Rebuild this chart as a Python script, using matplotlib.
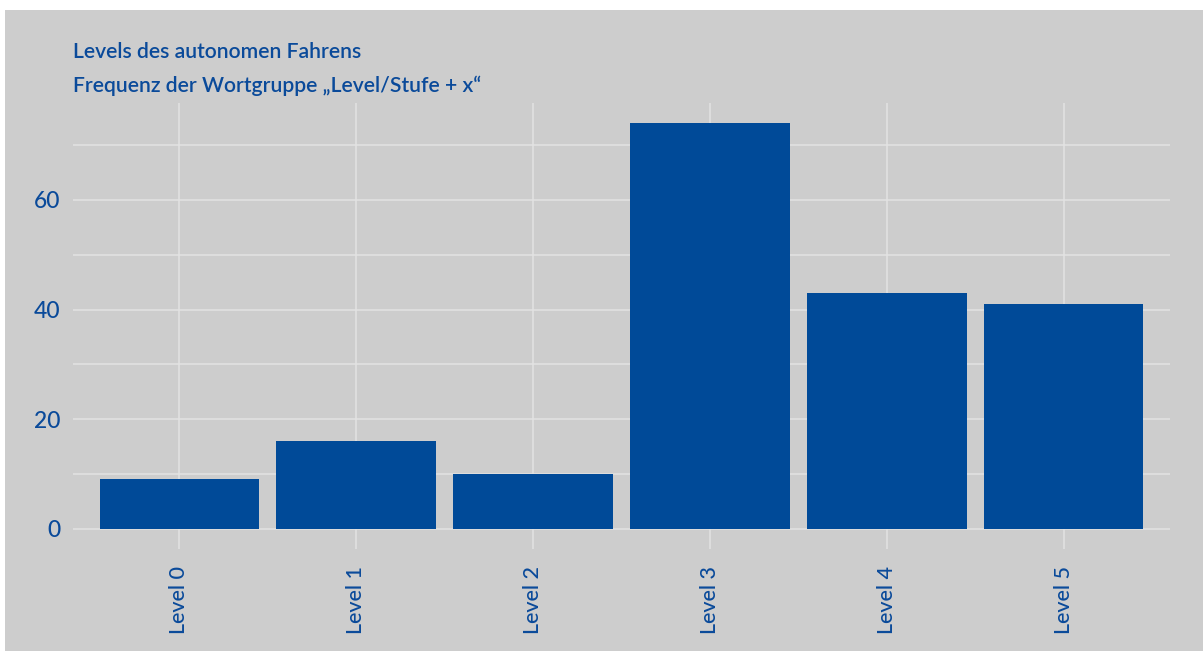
import matplotlib
matplotlib.use("Agg")
import matplotlib.pyplot as plt
from matplotlib.patches import Rectangle

categories = ["Level 0", "Level 1", "Level 2", "Level 3", "Level 4", "Level 5"]
counts = [9, 16, 10, 74, 43, 41]
y_major = [0, 20, 40, 60]
y_minor = [10, 30, 50, 70]
title_lines = ["Levels des autonomen Fahrens",
               "Frequenz der Wortgruppe \u201eLevel/Stufe + x\u201c"]

BLUE = "#004a98"
TEXT = "#0a4a9a"
PANEL = "#cdcdcd"
GRID = "#e3e3e3"

W, H = 1203, 653
fig = plt.figure(figsize=(W / 100, H / 100), dpi=100, facecolor="white")
plt.rcParams["font.family"] = ["Lato", "DejaVu Sans"]

# gray card behind the chart
fig.patches.append(Rectangle((5 / W, 2 / H), (W - 5) / W, (H - 12) / H,
                             transform=fig.transFigure, facecolor=PANEL,
                             edgecolor="none", zorder=-5))

ax = fig.add_axes([73 / W, (H - 549) / H, (1170 - 73) / W, (549 - 103) / H])
ax.set_zorder(2)
ax.set_facecolor(PANEL)
x = list(range(1, len(categories) + 1))
ax.bar(x, counts, width=0.9, color=BLUE, zorder=3)

ax.set_xlim(0.4, len(categories) + 0.6)
ymax = max(counts)
ax.set_ylim(-0.05 * ymax, ymax * 1.05)

ax.set_xticks(x)
ax.set_xticklabels(categories, rotation=90, fontsize=15.5, color=TEXT,
                   fontweight="medium")
ax.set_yticks(y_major)
ax.set_yticks(y_minor, minor=True)
ax.set_yticklabels([str(v) for v in y_major], fontsize=16.5, color=TEXT,
                   fontweight="medium")
ax.tick_params(axis="both", which="both", length=0)
ax.tick_params(axis="y", pad=9)
ax.tick_params(axis="x", pad=12)

ax.grid(True, which="major", axis="both", color=GRID, linewidth=1.1, zorder=0)
ax.grid(True, which="minor", axis="y", color=GRID, linewidth=1.1, zorder=0)
ax.set_axisbelow(True)
for s in ax.spines.values():
    s.set_visible(False)

fig.text(73 / W, 1 - 58 / H, title_lines[0], fontsize=15.2, color=TEXT,
         fontweight="semibold", ha="left", va="baseline")
fig.text(73 / W, 1 - 92 / H, title_lines[1], fontsize=15.2, color=TEXT,
         fontweight="semibold", ha="left", va="baseline")

fig.savefig("out.png", dpi=100, facecolor="white")
